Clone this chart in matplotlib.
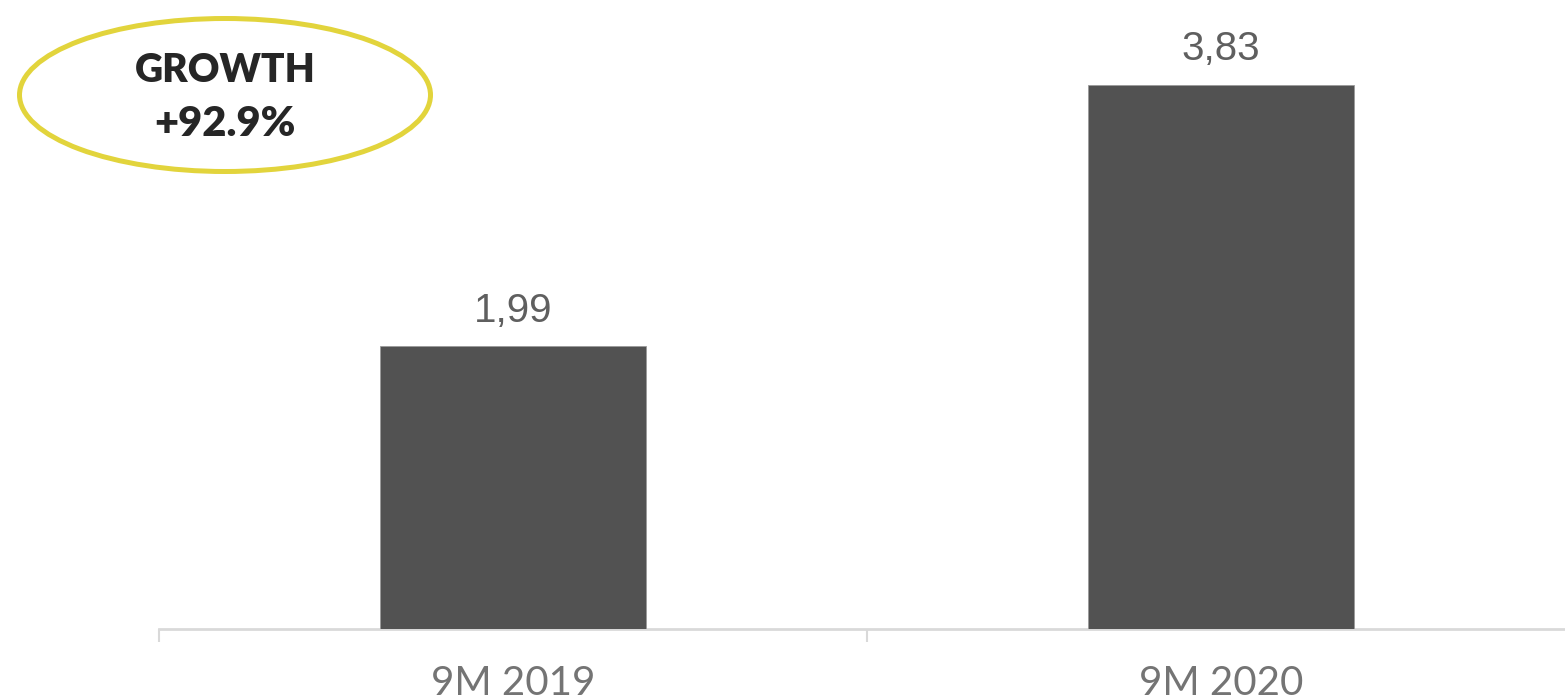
import matplotlib
matplotlib.use("Agg")
import matplotlib.pyplot as plt
from matplotlib.patches import Ellipse

periods = ["9M 2019", "9M 2020"]
values = [1.99, 3.83]
value_labels = ["1,99", "3,83"]
growth_text = ["GROWTH", "+92.9%"]

W, H = 1565, 696
fig = plt.figure(figsize=(W / 100, H / 100), dpi=100)

# axes placed in pixel terms: baseline at y=629, category slots 708 px wide
left, base, slot = 159, 629, 708
ax = fig.add_axes([left / W, (H - base) / H, 2 * slot / W, base / H])
x = list(range(len(periods)))
ax.bar(x, values, width=0.377, color="#525252", edgecolor="#9a9a9a",
       linewidth=0.6, zorder=3)
ax.set_xlim(-0.5, 1.5)
ax.set_ylim(0, base / 142.0)

for xi, v, lbl in zip(x, values, value_labels):
    ax.annotate(lbl, (xi, v), xytext=(0, 12), textcoords="offset points",
                ha="center", va="bottom", fontsize=29, color="#5f5f5f",
                family="Liberation Sans")

ax.set_xticks(x)
ax.set_xticklabels(periods, fontsize=29, color="#747474", family="Lato")
ax.tick_params(axis="x", which="major", length=0, pad=26)
ax.set_xticks([-0.5, 0.5, 1.5], minor=True)
ax.tick_params(axis="x", which="minor", length=9, width=1.5, color="#d9d9d9")
ax.set_yticks([])
for s in ("top", "right", "left"):
    ax.spines[s].set_visible(False)
ax.spines["bottom"].set_color("#d9d9d9")
ax.spines["bottom"].set_linewidth(2)

# growth callout
fig.patches.append(Ellipse((225 / W, 1 - 95 / H), 411 / W, 153 / H,
                           transform=fig.transFigure, fill=False,
                           edgecolor="#e2d43c", linewidth=3.6))
fig.text(225 / W, 1 - 70 / H, growth_text[0], ha="center", va="center",
         fontsize=28, fontweight="heavy", color="#262626", family="Lato")
fig.text(225 / W, 1 - 124 / H, growth_text[1], ha="center", va="center",
         fontsize=30, fontweight="heavy", color="#262626", family="Lato")

fig.savefig("out.png", dpi=100)
